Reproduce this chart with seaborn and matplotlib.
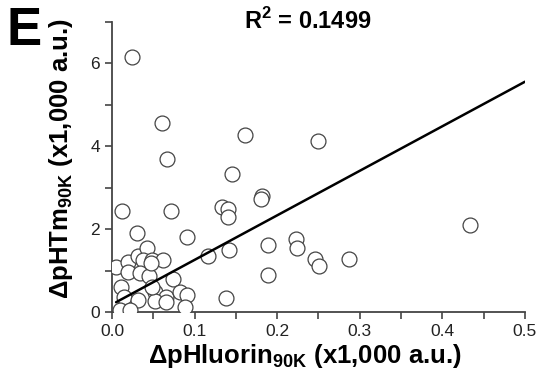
import numpy as np
import pandas as pd
import matplotlib
matplotlib.use("Agg")
import matplotlib.pyplot as plt
import seaborn as sns
from matplotlib.ticker import MultipleLocator

# data (x1,000 a.u.)
phluorin = [0.024, 0.060, 0.161, 0.067, 0.249, 0.145, 0.182, 0.180, 0.133, 0.141,
            0.140, 0.091, 0.116, 0.142, 0.189, 0.223, 0.224, 0.246, 0.251, 0.189,
            0.434, 0.287, 0.138, 0.012, 0.071, 0.030, 0.005, 0.020, 0.031, 0.042,
            0.038, 0.048, 0.062, 0.020, 0.034, 0.045, 0.011, 0.074, 0.052, 0.065,
            0.082, 0.091, 0.014, 0.031, 0.052, 0.065, 0.010, 0.022, 0.088, 0.047,
            0.049]
phtm = [6.16, 4.55, 4.28, 3.69, 4.13, 3.33, 2.80, 2.74, 2.54, 2.49,
        2.30, 1.82, 1.36, 1.50, 1.61, 1.76, 1.55, 1.28, 1.12, 0.91,
        2.10, 1.28, 0.35, 2.45, 2.45, 1.92, 1.08, 1.20, 1.36, 1.54,
        1.26, 1.27, 1.26, 0.98, 0.94, 0.88, 0.62, 0.81, 0.50, 0.38,
        0.50, 0.41, 0.38, 0.30, 0.28, 0.26, 0.06, 0.06, 0.12, 1.18,
        0.60]
fit_slope = 10.73
fit_intercept = 0.19
r_squared = "0.1499"

df = pd.DataFrame({"x": phluorin, "y": phtm})

sns.set_style("ticks")
plt.rcParams["font.family"] = ["Liberation Sans", "DejaVu Sans"]
plt.rcParams["text.color"] = "black"
plt.rcParams["axes.labelcolor"] = "black"
plt.rcParams["mathtext.fontset"] = "custom"
plt.rcParams["mathtext.rm"] = "Liberation Sans"
plt.rcParams["mathtext.bf"] = "Liberation Sans:bold"

fig = plt.figure(figsize=(5.42, 3.85), dpi=100)
ax = fig.add_axes([0.2066, 0.1888, 0.762, 0.7548])

sns.scatterplot(data=df, x="x", y="y", ax=ax, s=115, facecolor="white",
                edgecolor="#444444", linewidth=0.9, zorder=3)

line_x = np.array([min(phluorin), 0.5])
sns.lineplot(x=line_x, y=fit_slope * line_x + fit_intercept, ax=ax,
             color="black", linewidth=1.8, zorder=4)

ax.set_xlim(0, 0.5)
ax.set_ylim(0, 7)
ax.xaxis.set_major_locator(MultipleLocator(0.1))
ax.xaxis.set_minor_locator(MultipleLocator(0.05))
ax.yaxis.set_major_locator(MultipleLocator(2))
ax.yaxis.set_minor_locator(MultipleLocator(1))
ax.xaxis.set_major_formatter(matplotlib.ticker.FormatStrFormatter("%.1f"))

for side in ["top", "right"]:
    ax.spines[side].set_visible(False)
for side in ["left", "bottom"]:
    ax.spines[side].set_color("#444444")
    ax.spines[side].set_linewidth(1.3)
ax.tick_params(which="both", direction="out", length=5, width=1.2,
               color="#444444", labelsize=12.5, labelcolor="#222222")

ax.set_xlabel(r"$\mathbf{\Delta}$pHluorin$_{\mathbf{90K}}$ (x1,000 a.u.)",
              fontsize=18.5, fontweight="bold", labelpad=2)
ax.set_ylabel(r"$\mathbf{\Delta}$pHTm$_{\mathbf{90K}}$ (x1,000 a.u.)",
              fontsize=18.5, fontweight="bold", labelpad=11)
ax.xaxis.label.set_x(0.468)
ax.yaxis.label.set_y(0.53)

fig.text(0.012, 0.985, "E", fontsize=38, fontweight="bold", va="top", ha="left")
fig.text(0.567, 0.945, "R$^{\\mathbf{2}}$ = " + r_squared, fontsize=17,
         fontweight="bold", ha="center", va="center")

fig.savefig("out.png", dpi=100)
